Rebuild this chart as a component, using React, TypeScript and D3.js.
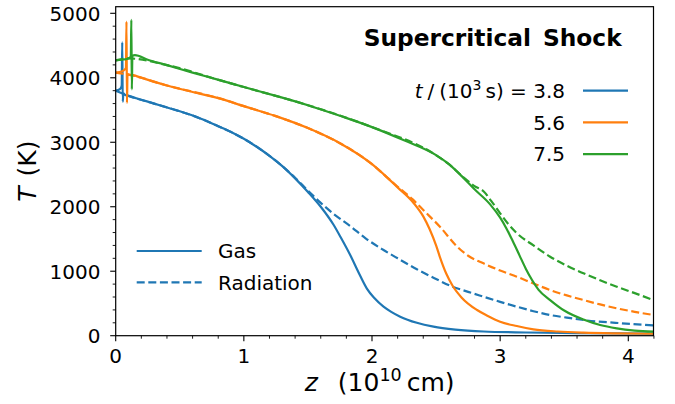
import React from "react";
import * as d3 from "d3";

// ---- data ----
const blueGasZ = [0, 0.02, 0.04, 0.047, 0.051, 0.055, 0.06, 0.07, 0.1, 0.2, 0.3, 0.4, 0.5, 0.66, 0.8, 0.9, 1.0, 1.1, 1.2, 1.3, 1.4, 1.5, 1.6, 1.7, 1.76, 1.83, 1.9, 1.96, 2.02, 2.09, 2.15, 2.22, 2.35, 2.48, 2.65, 2.87, 3.2, 3.6, 4.2];
const blueGasT = [3800, 3810, 3840, 3880, 4550, 3630, 3760, 3740, 3720, 3660, 3600, 3540, 3480, 3370, 3250, 3160, 3055, 2930, 2790, 2630, 2440, 2230, 2000, 1720, 1510, 1250, 960, 730, 580, 450, 370, 295, 200, 140, 95, 65, 50, 40, 32];
const blueRadZ = [0, 0.1, 0.3, 0.5, 0.66, 0.8, 1.0, 1.2, 1.4, 1.5, 1.6, 1.7, 1.83, 1.95, 2.09, 2.2, 2.35, 2.5, 2.61, 2.75, 2.87, 3.0, 3.13, 3.26, 3.39, 3.52, 3.65, 3.9, 4.2];
const blueRadT = [3800, 3720, 3600, 3480, 3370, 3250, 3055, 2790, 2450, 2250, 2060, 1890, 1700, 1510, 1329, 1200, 1030, 880, 775, 680, 605, 525, 450, 380, 321, 280, 243, 200, 160];

const orangeGasZ = [0, 0.03, 0.06, 0.08, 0.084, 0.088, 0.092, 0.1, 0.135, 0.2, 0.4, 0.6, 0.81, 1.0, 1.25, 1.5, 1.75, 2.0, 2.115, 2.2, 2.32, 2.4, 2.45, 2.5, 2.53, 2.58, 2.63, 2.7, 2.82, 2.9, 3.0, 3.13, 3.26, 3.45, 3.65, 3.9, 4.2];
const orangeGasT = [4080, 4090, 4110, 4150, 4870, 3610, 4060, 4050, 4040, 4000, 3880, 3780, 3680, 3560, 3405, 3220, 2985, 2660, 2460, 2300, 2070, 1850, 1650, 1400, 1220, 960, 770, 590, 398, 310, 217, 150, 99, 65, 47, 36, 30];
const orangeRadZ = [0, 0.1, 0.4, 0.81, 1.0, 1.25, 1.5, 1.75, 2.0, 2.115, 2.2, 2.32, 2.4, 2.53, 2.66, 2.75, 2.87, 3.0, 3.13, 3.26, 3.39, 3.52, 3.65, 3.78, 3.91, 4.05, 4.2];
const orangeRadT = [4080, 4050, 3880, 3680, 3560, 3405, 3220, 2985, 2660, 2460, 2310, 2110, 1949, 1690, 1390, 1240, 1122, 1010, 915, 810, 708, 625, 553, 485, 425, 370, 320];

const greenGasZ = [0, 0.05, 0.1, 0.118, 0.122, 0.126, 0.13, 0.15, 0.25, 0.4, 0.6, 0.81, 1.0, 1.25, 1.5, 1.75, 2.0, 2.25, 2.5, 2.6, 2.712, 2.8, 2.92, 3.0, 3.05, 3.1, 3.15, 3.2, 3.25, 3.3, 3.39, 3.5, 3.65, 3.78, 3.91, 4.05, 4.2];
const greenGasT = [4270, 4280, 4300, 4330, 4900, 3820, 4340, 4350, 4280, 4197, 4080, 3964, 3856, 3720, 3575, 3410, 3235, 3030, 2800, 2660, 2450, 2270, 2040, 1830, 1660, 1460, 1250, 1040, 860, 710, 553, 390, 250, 165, 114, 80, 62];
const greenRadZ = [0, 0.1, 0.4, 0.81, 1.0, 1.5, 2.0, 2.5, 2.6, 2.712, 2.8, 2.87, 2.93, 3.0, 3.06, 3.13, 3.26, 3.39, 3.52, 3.65, 3.78, 3.91, 4.05, 4.2];
const greenRadT = [4270, 4300, 4197, 3964, 3856, 3575, 3235, 2800, 2660, 2460, 2320, 2240, 2090, 1898, 1740, 1590, 1400, 1225, 1085, 968, 860, 760, 660, 550];

const times = ["3.8", "5.6", "7.5"];
const colors = ["#1f77b4", "#ff7f0e", "#2ca02c"];
const xTicks = [0, 1, 2, 3, 4];
const yTicks = [0, 1000, 2000, 3000, 4000, 5000];

const series = [
  { gz: blueGasZ, gt: blueGasT, rz: blueRadZ, rt: blueRadT },
  { gz: orangeGasZ, gt: orangeGasT, rz: orangeRadZ, rt: orangeRadT },
  { gz: greenGasZ, gt: greenGasT, rz: greenRadZ, rt: greenRadT },
];

// ---- layout ----
const W = 675, H = 404;
const L = 115.7, R = 653.5, T = 6.7, B = 335.7;
const FONT = "DejaVu Sans, sans-serif";

export default function App() {
  const x = d3.scaleLinear().domain([0, 4.2]).range([L, L + 128.15 * 4.2]);
  const y = d3.scaleLinear().domain([0, 5000]).range([B, 13.3]);
  const line = (zs: number[], ts: number[]) =>
    d3.line<number>().x((_, i) => x(zs[i])).y((d) => y(d)).curve(d3.curveMonotoneX)(ts) || "";

  const xMinor = d3.range(0, 4.21, 0.2).filter((v) => Math.abs(v - Math.round(v)) > 1e-6);
  const yMinor = d3.range(0, 5001, 200).filter((v) => v % 1000 !== 0);

  return (
    <svg width={W} height={H} style={{ position: "absolute", left: 0, top: 0, background: "#fff" }} fontFamily={FONT}>
      <defs>
        <clipPath id="ax">
          <rect x={L} y={T} width={R - L} height={B - T} />
        </clipPath>
      </defs>
      <rect x={0} y={0} width={W} height={H} fill="#fff" />
      <g clipPath="url(#ax)" fill="none" strokeWidth={2.2}>
        {series.map((s, i) => (
          <g key={i}>
            <path d={line(s.gz, s.gt)} stroke={colors[i]} strokeLinejoin="round" />
            <path d={line(s.rz, s.rt)} stroke={colors[i]} strokeDasharray="8,3.6" />
          </g>
        ))}
      </g>
      {/* frame */}
      <rect x={L} y={T} width={R - L} height={B - T} fill="none" stroke="#000" strokeWidth={1.2} />
      {/* x ticks */}
      {xTicks.map((v) => (
        <g key={"x" + v}>
          <line x1={x(v)} x2={x(v)} y1={B} y2={B + 5.5} stroke="#000" strokeWidth={1.1} />
          <text x={x(v)} y={362.6} fontSize={20} textAnchor="middle">{v}</text>
        </g>
      ))}
      {xMinor.map((v) => (
        <line key={"xm" + v} x1={x(v)} x2={x(v)} y1={B} y2={B + 3} stroke="#000" strokeWidth={0.9} />
      ))}
      {yTicks.map((v) => (
        <g key={"y" + v}>
          <line x1={L - 5.5} x2={L} y1={y(v)} y2={y(v)} stroke="#000" strokeWidth={1.1} />
          <text x={100.5} y={y(v) + 7.3} fontSize={20} textAnchor="end">{v}</text>
        </g>
      ))}
      {yMinor.map((v) => (
        <line key={"ym" + v} x1={L - 3} x2={L} y1={y(v)} y2={y(v)} stroke="#000" strokeWidth={0.9} />
      ))}
      {/* axis labels */}
      <text x={(L + R) / 2 - 5} y={391} fontSize={25} textAnchor="middle">
        <tspan fontStyle="italic">z</tspan>
        <tspan dx={20}>(10</tspan>
        <tspan fontSize={17.5} dy={-10}>10</tspan>
        <tspan dy={10} dx={5}>cm)</tspan>
      </text>
      <text transform={`translate(36,${(T + B) / 2}) rotate(-90)`} fontSize={25} textAnchor="middle">
        <tspan fontStyle="italic">T</tspan>
        <tspan dx={10}>(K)</tspan>
      </text>
      {/* title */}
      <text x={621.7} y={45.7} fontSize={23.3} fontWeight="bold" textAnchor="end">
        <tspan>Supercritical</tspan>
        <tspan dx={12}>Shock</tspan>
      </text>
      {/* time legend */}
      {times.map((t, i) => {
        const cy = 90.7 + i * 31.7;
        return (
          <g key={t}>
            <line x1={583} x2={628} y1={cy} y2={cy} stroke={colors[i]} strokeWidth={2.2} />
            {i === 0 ? (
              <text x={565} y={cy + 7.3} fontSize={20} textAnchor="end">
                <tspan fontStyle="italic">t</tspan>
                <tspan dx={5}>/</tspan>
                <tspan dx={5}>(10</tspan>
                <tspan fontSize={14} dy={-8}>3</tspan>
                <tspan dy={8} dx={4}>s) = 3.8</tspan>
              </text>
            ) : (
              <text x={565} y={cy + 7.3} fontSize={20} textAnchor="end">{t}</text>
            )}
          </g>
        );
      })}
      {/* style legend */}
      <line x1={136.7} x2={201.7} y1={251} y2={251} stroke={colors[0]} strokeWidth={2.2} />
      <text x={218} y={258.3} fontSize={20}>Gas</text>
      <line x1={136.7} x2={201.7} y1={282.3} y2={282.3} stroke={colors[0]} strokeWidth={2.2} strokeDasharray="8,3.6" />
      <text x={218} y={289.6} fontSize={20}>Radiation</text>
    </svg>
  );
}
